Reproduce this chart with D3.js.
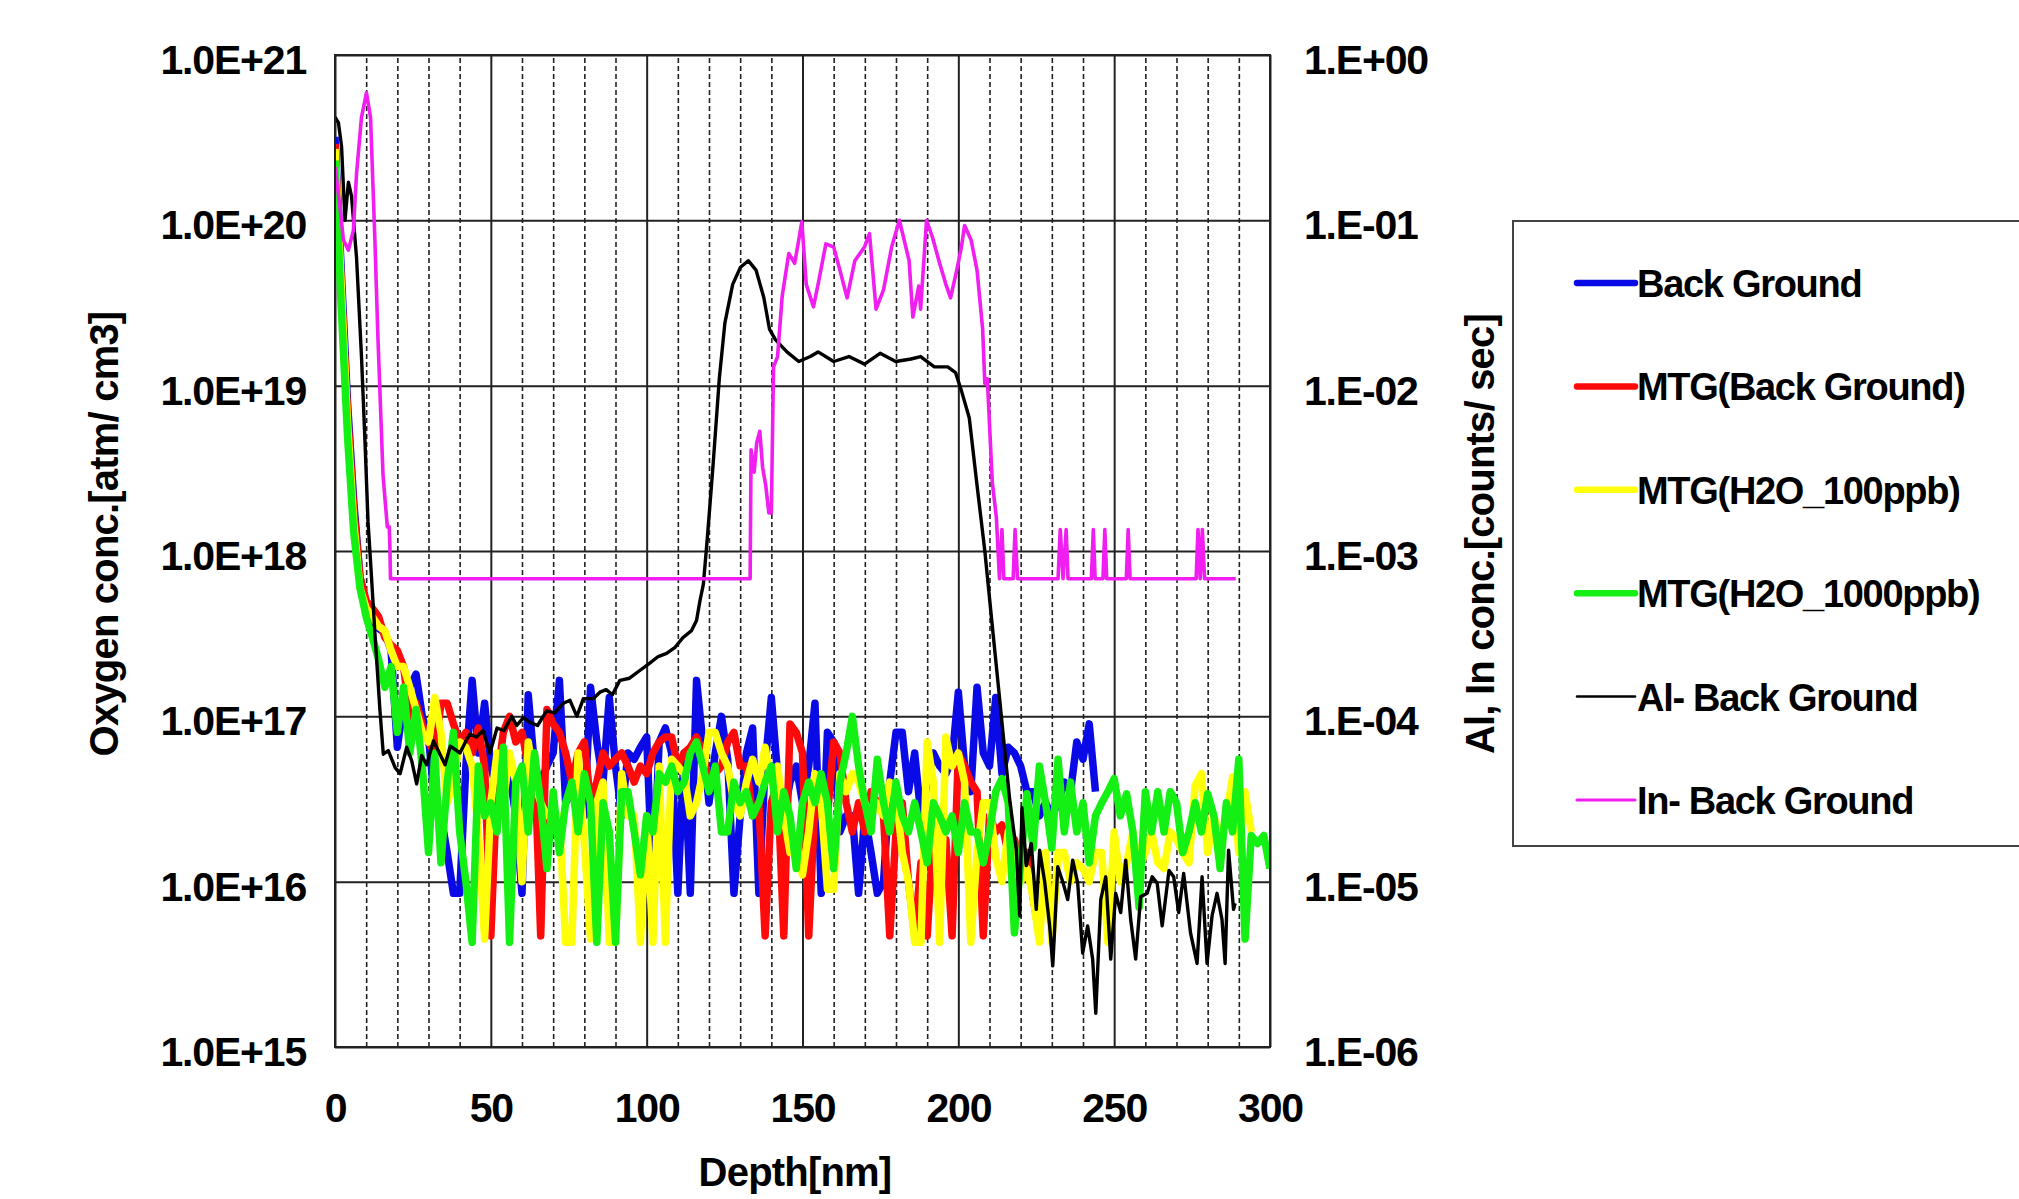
<!DOCTYPE html>
<html>
<head>
<meta charset="utf-8">
<script src="https://cdn.jsdelivr.net/npm/d3@7"></script>
<style>
  body { margin: 0; background: #fff; }
  svg text { font-family: "Liberation Sans", Arial, sans-serif; font-weight: bold; fill: #000; }
</style>
</head>
<body>
<svg id="chart" width="2019" height="1199"></svg>
<script>
// depth grid shared by the four oxygen profiles (nm)
const depthO = [
  0, 2, 4, 6, 8, 10, 12, 14, 16, 18, 20, 22, 24, 26, 28, 30, 32, 34, 36, 38,
  40, 42, 44, 46, 48, 50, 52, 54, 56, 58, 60, 62, 64, 66, 68, 70, 72, 74, 76, 78,
  80, 82, 84, 86, 88, 90, 92, 94, 96, 98, 100, 102, 104, 106, 108, 110, 112, 114, 116, 118,
  120, 122, 124, 126, 128, 130, 132, 134, 136, 138, 140, 142, 144, 146, 148, 150, 152, 154, 156, 158,
  160, 162, 164, 166, 168, 170, 172, 174, 176, 178, 180, 182, 184, 186, 188, 190, 192, 194, 196, 198,
  200, 202, 204, 206, 208, 210, 212, 214, 216, 218, 220, 222, 224, 226, 228, 230, 232, 234, 236, 238,
  240, 242, 244, 246, 248, 250, 252, 254, 256, 258, 260, 262, 264, 266, 268, 270, 272, 274, 276, 278,
  280, 282, 284, 286, 288, 290, 292, 294, 296, 298, 300
];

// oxygen conc. [atm/cm3]
const backGround = [
  3.2e20, 5e19, 8e18, 2e18, 7e17, 4.4e17, 3.8e17, 3.4e17, 3.2e17, 2.5e17,
  6.5e16, 1.2e17, 1.5e17, 1.8e17, 1e17, 7.5e16, 3e16, 2.5e16, 1.5e16, 8.5e15,
  8.5e15, 5e16, 1.65e17, 6e16, 1.2e17, 5e16, 3.5e16, 6e16, 4.5e16, 2.5e16,
  8.5e15, 1.35e17, 5e16, 4e16, 5e16, 6e16, 1.65e17, 3e16, 3.5e16, 5e16,
  2.5e16, 1.5e17, 7e16, 4e16, 1.3e17, 5e16, 2.5e16, 6e16, 5.5e16, 6.5e16,
  7.5e16, 8.5e15, 7e16, 8.5e16, 6e16, 8.5e15, 6e16, 8.5e15, 1.65e17, 7e16,
  3e16, 6e16, 1e17, 5.5e16, 8.5e15, 2.5e16, 6e16, 8.5e16, 8.5e15, 5e16,
  1.3e17, 4.5e16, 2.5e16, 4e16, 5e16, 3e16, 5e16, 1.2e17, 8.5e15, 8e16,
  7e16, 2e16, 2.5e16, 2.5e16, 8.5e15, 2.5e16, 1.5e16, 8.5e15, 1e16, 4e16,
  8e16, 8e16, 3.5e16, 6e16, 2.5e16, 4e16, 6e16, 5e16, 4.5e16, 5.5e16,
  1.4e17, 5e16, 3.5e16, 1.5e17, 6e16, 5e16, 1.3e17, 4.5e16, 6.5e16, 6e16,
  5e16, 3.5e16, 3.5e16, 2.5e16, 3e16, 2.5e16, 3e16, 4e16, 3.5e16, 7e16,
  5.5e16, 9e16, 3.5e16, null, null, null, null, null, null, null,
  null, null, null, null, null, null, null, null, null, null,
  null, null, null, null, null, null, null, null, null, null,
  null
];

const mtgBackGround = [
  2.9e20, 4e19, 7e18, 1.8e18, 7e17, 5e17, 4.5e17, 4e17, 3e17, 2.7e17,
  2.5e17, 2e17, 1e17, 1.2e17, 9e16, 7e16, 6e16, 1.2e17, 1.2e17, 9e16,
  7e16, 8e16, 6e16, 8.5e16, 5e16, 4.7e15, 4e16, 8e16, 1e17, 7e16,
  8e16, 5e16, 6e16, 4.7e15, 1.1e17, 9e16, 8e16, 6e16, 4e16, 6e16,
  7e16, 3e16, 4e16, 6e16, 5e16, 5.5e16, 6e16, 5e16, 4e16, 5e16,
  4.5e16, 6e16, 7e16, 7.5e16, 7.5e16, 5e16, 6e16, 6.5e16, 7.5e16, 6e16,
  4e16, 4.5e16, 5e16, 7e16, 8e16, 5e16, 5e16, 2.5e16, 3e16, 4.7e15,
  3e16, 4e16, 4.7e15, 9e16, 8e16, 6e16, 4.7e15, 3e16, 2.5e16, 2.5e16,
  7e16, 6e16, 3e16, 2e16, 3e16, 2e16, 3.5e16, 3e16, 2.5e16, 4.7e15,
  2e16, 3e16, 1e16, 4.7e15, 1.3e16, 4.7e15, 2e16, 1.2e16, 1.8e16, 4.7e15,
  6e16, 5e16, 4e16, 3.5e16, 4.7e15, 2.5e16, 2e16, 2.2e16, 1.5e16, 1.8e16,
  1.3e16, 1.5e16, 8e15, 4.7e15, null, null, null, null, null, null,
  null, null, null, null, null, null, null, null, null, null,
  null, null, null, null, null, null, null, null, null, null,
  null, null, null, null, null, null, null, null, null, null,
  null
];

const mtgH2O100 = [
  2.7e20, 4e19, 6e18, 1.5e18, 6e17, 4.5e17, 4e17, 3.5e17, 3.3e17, 2.5e17,
  2e17, 2e17, 1.5e17, 1.1e17, 8e16, 7e16, 1.3e17, 8e16, 3e16, 4e16,
  7e16, 6.5e16, 5e16, 2e16, 4.5e15, 3e16, 6e16, 3e16, 6e16, 4e16,
  1e16, 7e16, 4e16, 3e16, 2.5e16, 2.5e16, 2.5e16, 4.3e15, 4.3e15, 6e16,
  1.7e16, 4.5e15, 3e16, 4e16, 4.3e15, 4.3e15, 4.5e16, 2.5e16, 2.5e16, 4.3e15,
  2.5e16, 4.3e15, 5e16, 4.3e15, 5.5e16, 5e16, 4.5e16, 2.5e16, 3e16, 4.5e16,
  8e16, 8e16, 6e16, 5e16, 3e16, 2.5e16, 4e16, 5.5e16, 4e16, 6.5e16,
  4e16, 5e16, 2.5e16, 1.5e16, 1.5e16, 1.1e16, 2e16, 4.5e16, 3e16, 9e15,
  9e15, 4.5e16, 3.5e16, 4.5e16, 4e16, 3e16, 2.5e16, 3e16, 2.5e16, 4e16,
  3.5e16, 1.5e16, 1e16, 4.3e15, 4.3e15, 7e16, 4e16, 4.3e15, 7.5e16, 5e16,
  6e16, 4e16, 4.3e15, 1.5e16, 3e16, 3e16, 1.4e16, 1e16, 2e16, 1.5e16,
  1e16, 1.2e16, 8e15, 4.3e15, 1.5e16, 4.3e15, 1.5e16, 1.5e16, 1e16, 1.3e16,
  1.2e16, 1e16, 1.5e16, 1.5e16, 4.3e15, 2e16, 1e16, 1.3e16, 2e16, 1.2e16,
  1.5e16, 2e16, 1.3e16, 1.2e16, 2e16, 1.8e16, 1.5e16, 1.3e16, 3.8e16, 4.5e16,
  1.5e16, 2.5e16, 1.8e16, 2.5e16, 4.3e16, 1.5e16, 3.5e16, 2e16, null, null,
  null
];

const mtgH2O1000 = [
  2.3e20, 3e19, 5e18, 1.3e18, 6e17, 4e17, 3e17, 2.2e17, 1.5e17, 2e17,
  8e16, 1.5e17, 6e16, 1.1e17, 5e16, 1.5e16, 6e16, 1.3e16, 4e16, 8e16,
  2e16, 1e16, 4.3e15, 5e16, 2.5e16, 3e16, 2e16, 6.5e16, 4.3e15, 4e16,
  5e16, 2e16, 6e16, 3e16, 1.2e16, 3.5e16, 1.5e16, 3e16, 4e16, 2e16,
  4.5e16, 3e16, 4.3e15, 3e16, 2e16, 4.3e15, 3.5e16, 3.5e16, 2e16, 1.1e16,
  2.5e16, 2e16, 4.5e16, 4e16, 5e16, 3.5e16, 4e16, 6e16, 7e16, 5e16,
  3.5e16, 5e16, 2e16, 2e16, 4e16, 3e16, 3.5e16, 2.5e16, 3e16, 4e16,
  5e16, 2e16, 3.5e16, 2.5e16, 1.2e16, 3e16, 4e16, 3e16, 4.5e16, 3e16,
  1.2e16, 4e16, 6e16, 1e17, 5e16, 3e16, 2e16, 5.5e16, 3e16, 2e16,
  4e16, 2.5e16, 2e16, 3e16, 2e16, 1.3e16, 3e16, 2.5e16, 2e16, 2.5e16,
  1.5e16, 3e16, 2e16, 2e16, 1.3e16, 2e16, 3.5e16, 4.2e16, 3e16, 4.9e15,
  1.3e16, 3.4e16, 1.6e16, 5e16, 3e16, 1.6e16, 5.5e16, 2e16, 4e16, 2e16,
  3e16, 1.3e16, 2.5e16, 3e16, 3.5e16, 4.2e16, 2.5e16, 3.4e16, 2e16, 7e15,
  3.5e16, 2e16, 3.5e16, 2e16, 3.5e16, 3e16, 1.5e16, 2e16, 3e16, 2e16,
  3.4e16, 2.5e16, 1.2e16, 3e16, 2e16, 5.5e16, 4.5e15, 1.9e16, 1.7e16, 1.9e16,
  1.2e16
];

// Al, In conc. [counts/sec] (right axis)
const alDepth = [
  0, 1.1, 2.1, 3.2, 4.3, 5.3, 6.9, 8.5, 9.6, 10.6, 11.2, 12.8, 14.4, 15.5, 17.1, 19.3, 20.9, 23, 24.6, 26.2,
  27.8, 29.4, 31.6, 33.5, 35.3, 37, 40.1, 42, 43.3, 45.4, 47.5, 49.7, 52, 54.2, 56.7, 58.3, 60.4, 62.6, 65, 67.9,
  70.5, 73.3, 75.4, 77.6, 79.7, 82.9, 85, 87, 89, 91.4, 94.5, 97.9, 101, 103.7, 106.4, 109, 111.7, 114.4, 116, 117.1,
  118.2, 119.3, 120.4, 121.4, 123.3, 125.1, 127.6, 130.1, 132.6, 135.1, 137.6, 139.4, 141.3, 145, 148.8, 152.5, 155, 160, 164.9, 169.9,
  174.9, 179.9, 184.8, 187.9, 192.3, 196.6, 199.1, 201, 203.5, 206, 208.5, 210.6, 212.8, 214.9, 216.5, 218.6, 219.7, 220.4, 221.8, 223.4,
  225, 226.1, 227.7, 229.3, 230.3, 231.9, 233.5, 235.1, 236.7, 238.3, 239.9, 241.5, 243.1, 244.1, 245.7, 247.3, 248.9, 250.5, 252.1, 253.7,
  255.3, 256.9, 258.5, 260.6, 262.2, 263.8, 265.4, 267.6, 269.1, 270.7, 272.3, 274.5, 276.6, 278.2, 279.8, 281.4, 283, 284.6, 285.6, 286.7,
  288.3, 288.8
];
const alBackGround = [
  0.42, 0.39, 0.28, 0.10, 0.17, 0.14, 0.06, 0.015, 4.7e-3, 1.5e-3, 1e-3, 3.2e-4, 1.1e-4, 5.9e-5, 6.2e-5, 4.9e-5, 4.5e-5, 6.5e-5, 5.4e-5, 3.9e-5,
  5.8e-5, 5.1e-5, 7.1e-5, 6e-5, 5.1e-5, 6.6e-5, 6e-5, 7.1e-5, 7.8e-5, 7.5e-5, 8.2e-5, 6e-5, 8.5e-5, 8.2e-5, 1e-4, 8.8e-5, 9.8e-5, 9.2e-5, 8.8e-5, 1.08e-4,
  1.05e-4, 1.2e-4, 1.25e-4, 1e-4, 1.28e-4, 1.28e-4, 1.4e-4, 1.45e-4, 1.35e-4, 1.65e-4, 1.7e-4, 1.9e-4, 2.1e-4, 2.3e-4, 2.4e-4, 2.6e-4, 3e-4, 3.3e-4, 3.8e-4, 5e-4,
  6.3e-4, 1.1e-3, 2e-3, 3.5e-3, 0.011, 0.024, 0.041, 0.052, 0.057, 0.05, 0.034, 0.022, 0.019, 0.016, 0.014, 0.015, 0.016, 0.014, 0.015, 0.0135,
  0.0157, 0.014, 0.0145, 0.015, 0.013, 0.013, 0.012, 9.3e-3, 6.4e-3, 2.5e-3, 1e-3, 4e-4, 1.55e-4, 6.2e-5, 3.1e-5, 1.55e-5, 6.2e-6, 2.8e-5, 1.25e-5, 1.7e-5,
  6.8e-6, 1.55e-5, 1e-5, 5.4e-6, 3.1e-6, 1.23e-5, 1e-5, 7.8e-6, 1.35e-5, 9.8e-6, 3.7e-6, 5.4e-6, 3.4e-6, 1.6e-6, 7.8e-6, 1.07e-5, 3.4e-6, 8.5e-6, 6.5e-6, 1.35e-5,
  5.9e-6, 3.4e-6, 8.1e-6, 8.5e-6, 1.07e-5, 9.8e-6, 5.4e-6, 1.17e-5, 1.07e-5, 6.5e-6, 1.12e-5, 4.9e-6, 3.2e-6, 1.07e-5, 3.2e-6, 6.2e-6, 8.5e-6, 5.9e-6, 3.2e-6, 1.55e-5,
  6.8e-6, 7.4e-6
];

const inDepth = [
  0, 1.6, 2.7, 4.3, 5.9, 6.9, 8.5, 10.1, 11.4, 12.8, 13.8, 15.4, 16.3, 16.8, 17.4, 17.6, 17.8, 133.2, 133.5, 134.5,
  135.3, 136.3, 137.2, 138.2, 139.2, 140, 140.7, 142, 143.5, 145.6, 147.5, 149.8, 151.2, 153.5, 155, 157.5, 160, 162, 164.3, 166.8,
  169.9, 171.5, 173.6, 176, 178.6, 181.1, 184.2, 185.4, 187.3, 187.9, 189.8, 191.7, 194, 196, 197.5, 199.5, 201, 202, 204.1, 206,
  207.8, 208.5, 209.3, 210.9, 212.2, 213.2, 214, 214.6, 217.6, 218.2, 219, 232, 232.7, 233.6, 234.6, 235.2, 242.7, 243.3, 243.9, 246.4,
  247, 247.6, 253.9, 254.5, 255.1, 276.3, 276.9, 277.6, 278.3, 279, 289
];
const inBackGround = [
  0.21, 0.12, 0.076, 0.066, 0.087, 0.19, 0.42, 0.59, 0.42, 0.076, 0.019, 2.9e-3, 1.8e-3, 1.4e-3, 1.4e-3, 1.1e-3, 6.8e-4, 6.8e-4, 4.1e-3, 3.0e-3,
  4.5e-3, 5.3e-3, 3.2e-3, 2.5e-3, 1.7e-3, 1.7e-3, 0.013, 0.015, 0.035, 0.063, 0.055, 0.098, 0.041, 0.030, 0.041, 0.072, 0.069, 0.05, 0.034, 0.057,
  0.069, 0.083, 0.029, 0.038, 0.069, 0.1, 0.057, 0.026, 0.04, 0.029, 0.1, 0.079, 0.055, 0.041, 0.034, 0.05, 0.069, 0.093, 0.076, 0.05,
  0.022, 0.0103, 0.011, 2.6e-3, 1.6e-3, 6.8e-4, 1.35e-3, 6.8e-4, 6.8e-4, 1.35e-3, 6.8e-4, 6.8e-4, 1.35e-3, 6.8e-4, 1.35e-3, 6.8e-4, 6.8e-4, 1.35e-3, 6.8e-4, 6.8e-4,
  1.35e-3, 6.8e-4, 6.8e-4, 1.35e-3, 6.8e-4, 6.8e-4, 1.35e-3, 6.8e-4, 1.35e-3, 6.8e-4, 6.8e-4
];

const xTicks = [0, 50, 100, 150, 200, 250, 300];
const xMinor = [10, 20, 30, 40, 60, 70, 80, 90, 110, 120, 130, 140, 160, 170, 180, 190, 210, 220, 230, 240, 260, 270, 280, 290];
const leftTicks = [1e15, 1e16, 1e17, 1e18, 1e19, 1e20, 1e21];
const leftLabels = ['1.0E+15', '1.0E+16', '1.0E+17', '1.0E+18', '1.0E+19', '1.0E+20', '1.0E+21'];
const rightTicks = [1e-6, 1e-5, 1e-4, 1e-3, 1e-2, 1e-1, 1];
const rightLabels = ['1.E-06', '1.E-05', '1.E-04', '1.E-03', '1.E-02', '1.E-01', '1.E+00'];
const legendNames = ['Back Ground', 'MTG(Back Ground)', 'MTG(H2O_100ppb)', 'MTG(H2O_1000ppb)', 'Al- Back Ground', 'In- Back Ground'];

const plot = { left: 335, right: 1270, top: 55, bottom: 1047 };
const svg = d3.select('#chart');

const x = d3.scaleLinear().domain([0, 300]).range([plot.left, plot.right]);
const yO = d3.scaleLog().domain([1e15, 1e21]).range([plot.bottom, plot.top]);
const yM = d3.scaleLog().domain([1e-6, 1]).range([plot.bottom, plot.top]);

// grid
const grid = svg.append('g');
grid.append('g')
  .attr('transform', `translate(0,${plot.bottom})`)
  .call(d3.axisBottom(x).tickValues(xMinor).tickSize(-(plot.bottom - plot.top)).tickFormat(''))
  .call(g => g.select('.domain').remove())
  .call(g => g.selectAll('line').attr('stroke', '#222').attr('stroke-width', 1.6).attr('stroke-dasharray', '5,3'));
grid.append('g')
  .attr('transform', `translate(0,${plot.bottom})`)
  .call(d3.axisBottom(x).tickValues(xTicks).tickSize(-(plot.bottom - plot.top)).tickFormat(''))
  .call(g => g.select('.domain').remove())
  .call(g => g.selectAll('line').attr('stroke', '#222').attr('stroke-width', 2));
grid.append('g')
  .attr('transform', `translate(${plot.left},0)`)
  .call(d3.axisLeft(yO).tickValues(leftTicks).tickSize(-(plot.right - plot.left)).tickFormat(''))
  .call(g => g.select('.domain').remove())
  .call(g => g.selectAll('line').attr('stroke', '#222').attr('stroke-width', 2));

// series
svg.append('clipPath').attr('id', 'clip')
  .append('rect')
  .attr('x', plot.left).attr('y', plot.top)
  .attr('width', plot.right - plot.left).attr('height', plot.bottom - plot.top);

const lineO = d3.line()
  .defined(d => d[1] != null)
  .x(d => x(d[0]))
  .y(d => yO(d[1]));
const lineM = d3.line()
  .x(d => x(d[0]))
  .y(d => yM(d[1]));

const series = [
  { values: backGround, color: '#0a0ae6', width: 7.5 },
  { values: mtgBackGround, color: '#ff0a0a', width: 7.5 },
  { values: mtgH2O100, color: '#ffff0a', width: 7.5 },
  { values: mtgH2O1000, color: '#14f014', width: 7.5 }
];
const lines = svg.append('g').attr('clip-path', 'url(#clip)');
series.forEach(s => {
  lines.append('path')
    .datum(depthO.map((d, i) => [d, s.values[i]]))
    .attr('fill', 'none')
    .attr('stroke', s.color)
    .attr('stroke-width', s.width)
    .attr('stroke-linejoin', 'round')
    .attr('d', lineO);
});
lines.append('path')
  .datum(alDepth.map((d, i) => [d, alBackGround[i]]))
  .attr('fill', 'none').attr('stroke', '#000').attr('stroke-width', 3.4)
  .attr('stroke-linejoin', 'round')
  .attr('d', lineM);
lines.append('path')
  .datum(inDepth.map((d, i) => [d, inBackGround[i]]))
  .attr('fill', 'none').attr('stroke', '#f01ef0').attr('stroke-width', 3.6)
  .attr('stroke-linejoin', 'round')
  .attr('d', lineM);

// frame
svg.append('rect')
  .attr('x', plot.left).attr('y', plot.top)
  .attr('width', plot.right - plot.left).attr('height', plot.bottom - plot.top)
  .attr('fill', 'none').attr('stroke', '#222').attr('stroke-width', 2);

// axes labels
const styleTicks = g => {
  g.select('.domain').remove();
  g.selectAll('line').remove();
  g.selectAll('text')
    .attr('font-size', 41)
    .attr('letter-spacing', '-1.2px')
    .attr('fill', '#000');
};
svg.append('g')
  .attr('transform', `translate(${plot.left},0)`)
  .call(d3.axisLeft(yO).tickValues(leftTicks).tickSize(0).tickPadding(29)
    .tickFormat((d, i) => leftLabels[i]))
  .call(styleTicks)
  .call(g => g.selectAll('text').attr('dy', '0.45em'));
svg.append('g')
  .attr('transform', `translate(${plot.right},0)`)
  .call(d3.axisRight(yM).tickValues(rightTicks).tickSize(0).tickPadding(34)
    .tickFormat((d, i) => rightLabels[i]))
  .call(styleTicks)
  .call(g => g.selectAll('text').attr('dy', '0.45em'));
svg.append('g')
  .attr('transform', `translate(0,${plot.bottom})`)
  .call(d3.axisBottom(x).tickValues(xTicks).tickSize(0).tickPadding(46))
  .call(styleTicks);

// axis titles
svg.append('text')
  .attr('transform', 'translate(118,534) rotate(-90)')
  .attr('text-anchor', 'middle')
  .attr('font-size', 40).attr('letter-spacing', '-0.8px')
  .text('Oxygen conc.[atm/ cm3]');
svg.append('text')
  .attr('transform', 'translate(1494,534) rotate(-90)')
  .attr('text-anchor', 'middle')
  .attr('font-size', 40).attr('letter-spacing', '-0.8px')
  .text('Al, In conc.[counts/ sec]');
svg.append('text')
  .attr('x', 795).attr('y', 1186)
  .attr('text-anchor', 'middle')
  .attr('font-size', 40).attr('letter-spacing', '-0.8px')
  .text('Depth[nm]');

// legend
const legend = svg.append('g');
legend.append('rect')
  .attr('x', 1513).attr('y', 221).attr('width', 540).attr('height', 625)
  .attr('fill', '#fff').attr('stroke', '#444').attr('stroke-width', 2);
const legendStyle = [
  { color: '#0a0ae6', width: 6.5 },
  { color: '#ff0a0a', width: 6.5 },
  { color: '#ffff0a', width: 6.5 },
  { color: '#14f014', width: 6.5 },
  { color: '#000', width: 2.5 },
  { color: '#f01ef0', width: 3 }
];
legendNames.forEach((name, i) => {
  const cy = 283 + i * 103.4;
  legend.append('line')
    .attr('x1', 1577).attr('x2', 1635).attr('y1', cy).attr('y2', cy)
    .attr('stroke', legendStyle[i].color).attr('stroke-width', legendStyle[i].width)
    .attr('stroke-linecap', 'round');
  legend.append('text')
    .attr('x', 1637).attr('y', cy + 14)
    .attr('font-size', 38).attr('letter-spacing', '-1.3px')
    .text(name);
});
</script>
</body>
</html>
